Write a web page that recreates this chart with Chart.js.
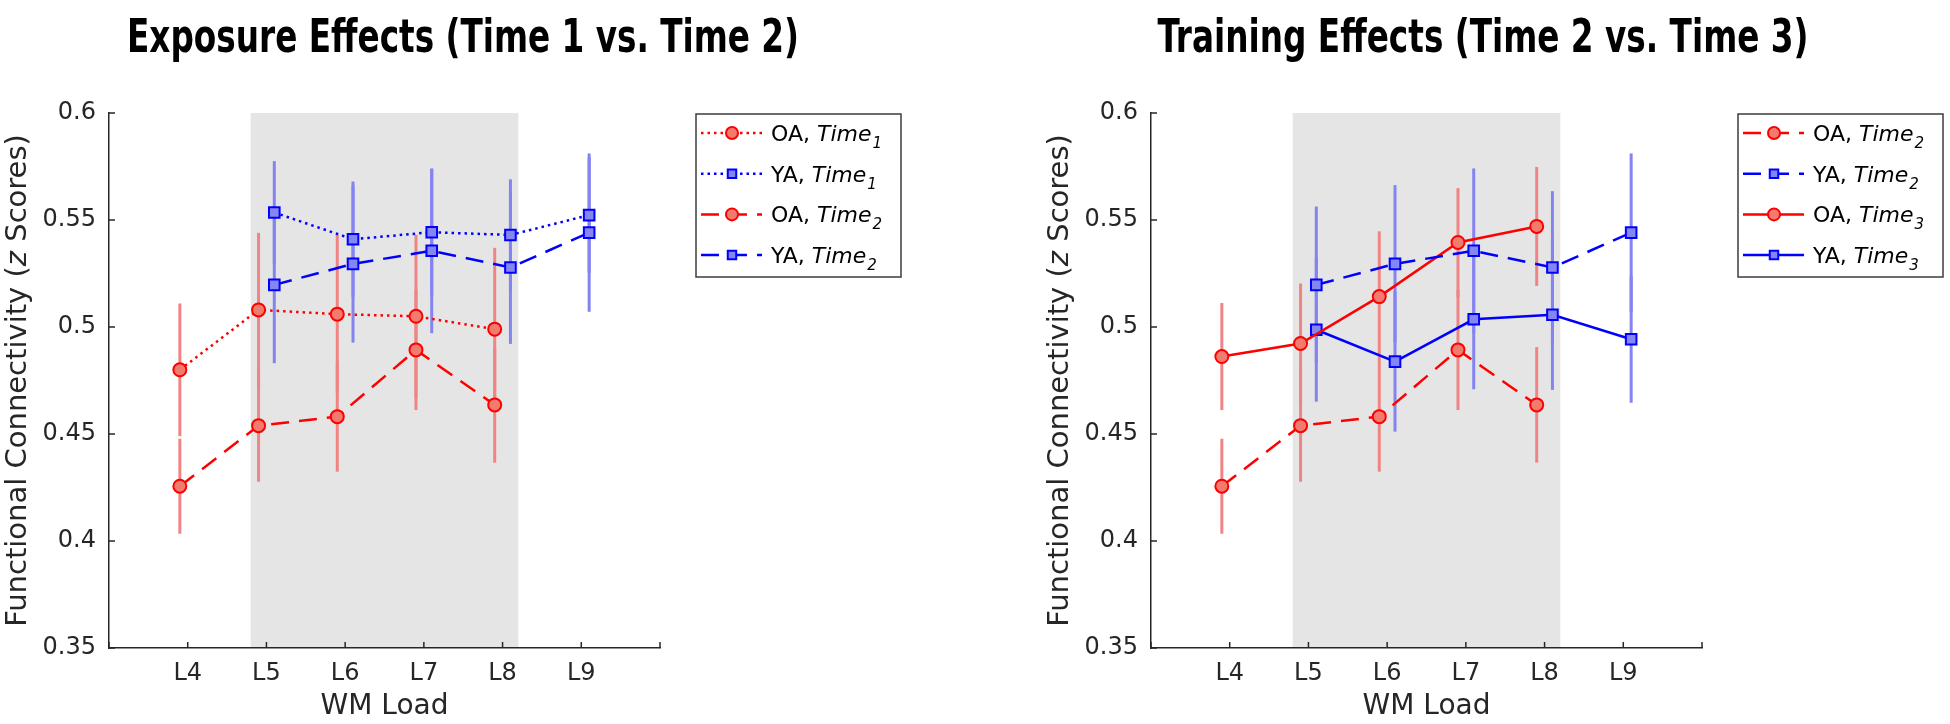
<!DOCTYPE html>
<html>
<head>
<meta charset="utf-8">
<script src="https://cdn.jsdelivr.net/npm/chart.js@4.4.1/dist/chart.umd.min.js"></script>
<style>
  html, body { margin: 0; padding: 0; background: #fff; }
  body { width: 1950px; height: 724px; position: relative; overflow: hidden; }
  canvas { position: absolute; top: 0; }
  #exposure { left: 0; }
  #training { left: 1042px; }
</style>
</head>
<body>
<canvas id="exposure" width="1042" height="724"></canvas>
<canvas id="training" width="908" height="724"></canvas>
<script>
// WM load levels and their tick labels
const loads = [4, 5, 6, 7, 8, 9]
const loadLabels = ['L4', 'L5', 'L6', 'L7', 'L8', 'L9']
const xLimits = [3, 10]
const yTicks = [0.35, 0.4, 0.45, 0.5, 0.55, 0.6]
const shaded = [4.8, 8.2]

// mean functional connectivity (z) per load, null = no data at that load
const oaTime1 = [0.480, 0.508, 0.506, 0.505, 0.499, null]
const oaTime1Err = [0.031, 0.036, 0.037, 0.038, 0.038, null]
const yaTime1 = [null, 0.5535, 0.541, 0.5443, 0.543, 0.5523]
const yaTime1Err = [null, 0.024, 0.027, 0.0295, 0.026, 0.027]

const oaTime2 = [0.4256, 0.4539, 0.4581, 0.4893, 0.4636, null]
const oaTime2Err = [0.0222, 0.0262, 0.0257, 0.0281, 0.027, null]
const yaTime2 = [null, 0.5197, 0.5295, 0.5356, 0.5278, 0.5441]
const yaTime2Err = [null, 0.0366, 0.0368, 0.0385, 0.0357, 0.037]

const oaTime3 = [0.4862, 0.4923, 0.5142, 0.5395, 0.547, null]
const oaTime3Err = [0.025, 0.028, 0.0305, 0.0254, 0.0278, null]
const yaTime3 = [null, 0.4987, 0.4838, 0.5036, 0.5057, 0.4943]
const yaTime3Err = [null, 0.0336, 0.0327, 0.0327, 0.0351, 0.0297]

const DOT = [2.5, 4]
const DASH = [18, 10]
const SOLID = []
const AXIS = '#262626'
const FONT = 'DejaVu Sans'

function series(group, session, values, errs, dash) {
    const oa = group === 'OA'
    const shift = oa ? -0.1 : 0.1
    const data = []
    values.forEach((v, i) => {
        if (v != null) data.push({ x: loads[i] + shift, y: v, e: errs[i] })
    })
    return {
        label: group + ', Time' + session,
        group, session, data,
        borderColor: oa ? '#ff0000' : '#0000ff',
        borderWidth: 2.5,
        borderDash: dash,
        pointStyle: oa ? 'circle' : 'rect',
        pointRadius: oa ? 6.5 : 7.5,
        pointBackgroundColor: oa ? '#f27b70' : '#8686f2',
        pointBorderColor: oa ? '#ff0000' : '#0000ff',
        pointBorderWidth: 2,
        errColor: oa ? '#f08484' : '#8484f0',
        fill: false,
        tension: 0,
    }
}

function line(ctx, x0, y0, x1, y1) {
    ctx.beginPath(); ctx.moveTo(x0, y0); ctx.lineTo(x1, y1); ctx.stroke()
}

const decor = {
    id: 'decor',
    beforeDraw(chart) {
        // grey band behind the data
        const { ctx, chartArea: a, scales: { x } } = chart
        const x0 = x.getPixelForValue(shaded[0])
        const x1 = x.getPixelForValue(shaded[1])
        ctx.save()
        ctx.fillStyle = '#e5e5e5'
        ctx.fillRect(x0, a.top, x1 - x0, a.bottom - a.top - 1)
        ctx.restore()
    },
    beforeDatasetsDraw(chart) {
        // error bars
        const { ctx, scales: { x, y } } = chart
        ctx.save()
        ctx.lineWidth = 3
        chart.data.datasets.forEach(ds => {
            ctx.strokeStyle = ds.errColor
            ds.data.forEach(p => {
                const px = x.getPixelForValue(p.x)
                line(ctx, px, y.getPixelForValue(p.y + p.e), px, y.getPixelForValue(p.y - p.e))
            })
        })
        ctx.restore()
    },
    afterDraw(chart, args, opts) {
        const { ctx, chartArea: a, scales: { x, y } } = chart
        ctx.save()

        // inward tick marks
        ctx.strokeStyle = AXIS
        ctx.lineWidth = 1.5
        x.ticks.forEach(t => {
            const px = x.getPixelForValue(t.value)
            line(ctx, px, a.bottom, px, a.bottom - 6)
        })
        y.ticks.forEach(t => {
            const py = y.getPixelForValue(t.value)
            line(ctx, a.left, py, a.left + 6, py)
        })

        // y label with italic z
        const parts = [['Functional Connectivity (', ''], ['z', 'italic '], [' Scores)', '']]
        ctx.translate(opts.yTitleX, (a.top + a.bottom) / 2)
        ctx.rotate(-Math.PI / 2)
        ctx.fillStyle = AXIS
        ctx.textBaseline = 'middle'
        ctx.textAlign = 'left'
        let total = 0
        parts.forEach(([t, st]) => { ctx.font = st + '29px ' + FONT; total += ctx.measureText(t).width })
        let cx = -total / 2
        parts.forEach(([t, st]) => {
            ctx.font = st + '29px ' + FONT
            ctx.fillText(t, cx, 0)
            cx += ctx.measureText(t).width
        })
        ctx.setTransform(1, 0, 0, 1, 0, 0)

        // panel title, squeezed to the width of the original
        ctx.font = 'bold 47px "Liberation Sans Narrow", "DejaVu Sans Condensed", sans-serif'
        ctx.fillStyle = '#000'
        ctx.textAlign = 'center'
        ctx.textBaseline = 'alphabetic'
        const w = ctx.measureText(opts.title).width
        ctx.translate(opts.titleX, opts.titleY)
        ctx.scale(opts.titleWidth / w, 1)
        ctx.fillText(opts.title, 0, 0)
        ctx.setTransform(1, 0, 0, 1, 0, 0)

        // legend box
        const L = opts.legend
        ctx.fillStyle = '#fff'
        ctx.fillRect(L.left, L.top, L.width, L.height)
        ctx.strokeStyle = '#3c3c3c'
        ctx.lineWidth = 1.5
        ctx.strokeRect(L.left, L.top, L.width, L.height)
        chart.data.datasets.forEach((ds, i) => {
            const ry = L.top + 19 + i * 40.7
            ctx.strokeStyle = ds.borderColor
            ctx.lineWidth = ds.borderWidth
            ctx.setLineDash(ds.borderDash)
            line(ctx, L.left + 5, ry, L.left + 66, ry)
            ctx.setLineDash([])
            ctx.fillStyle = ds.pointBackgroundColor
            ctx.strokeStyle = ds.pointBorderColor
            ctx.lineWidth = 2
            Chart.helpers.drawPoint(ctx, { pointStyle: ds.pointStyle, radius: 6, borderWidth: 2, rotation: 0 }, L.left + 36, ry)
            ctx.fillStyle = '#000'
            ctx.textAlign = 'left'
            ctx.textBaseline = 'alphabetic'
            let tx = L.left + 75
            const base = ry + 8
            ctx.font = '22px ' + FONT
            ctx.fillText(ds.group + ', ', tx, base)
            tx += ctx.measureText(ds.group + ', ').width
            ctx.font = 'italic 22px ' + FONT
            ctx.fillText('Time', tx, base)
            tx += ctx.measureText('Time').width
            ctx.font = 'italic 15px ' + FONT
            ctx.fillText(ds.session, tx + 1, base + 7)
        })
        ctx.restore()
    },
}

function makeChart(id, datasets, title, titleX, titleWidth, rightPad) {
    return new Chart(document.getElementById(id), {
        type: 'line',
        data: { datasets },
        plugins: [decor],
        options: {
            responsive: false,
            animation: false,
            devicePixelRatio: 1,
            layout: { padding: { top: 113, right: rightPad, left: 0, bottom: 0 } },
            plugins: {
                legend: { display: false },
                title: { display: false },
                tooltip: { enabled: false },
                decor: {
                    title, titleX, titleWidth, titleY: 52, yTitleX: 18,
                    legend: { left: 696, top: 114, width: 205, height: 163 },
                },
            },
            scales: {
                x: {
                    type: 'linear',
                    min: xLimits[0],
                    max: xLimits[1],
                    afterBuildTicks: s => { s.ticks = [xLimits[0], ...loads, xLimits[1]].map(v => ({ value: v })) },
                    afterFit: s => { s.height = 76 },
                    grid: { display: false, drawTicks: false },
                    border: { display: true, color: AXIS, width: 1.5 },
                    ticks: {
                        padding: 11,
                        color: AXIS,
                        font: { family: FONT, size: 24 },
                        callback: v => { const i = loads.indexOf(v); return i >= 0 ? loadLabels[i] : '' },
                    },
                    title: {
                        display: true, text: 'WM Load', color: AXIS,
                        font: { family: FONT, size: 28 },
                        padding: { top: 0, bottom: 0 },
                    },
                },
                y: {
                    min: yTicks[0],
                    max: yTicks[yTicks.length - 1],
                    afterBuildTicks: s => { s.ticks = yTicks.map(v => ({ value: v })) },
                    afterFit: s => { s.width = 109 },
                    grid: { display: false, drawTicks: false },
                    border: { display: true, color: AXIS, width: 1.5 },
                    ticks: {
                        padding: 13,
                        color: AXIS,
                        font: { family: FONT, size: 24 },
                        callback: v => String(+v.toFixed(2)),
                    },
                },
            },
        },
    })
}

makeChart('exposure', [
    series('OA', '1', oaTime1, oaTime1Err, DOT),
    series('YA', '1', yaTime1, yaTime1Err, DOT),
    series('OA', '2', oaTime2, oaTime2Err, DASH),
    series('YA', '2', yaTime2, yaTime2Err, DASH),
], 'Exposure Effects (Time 1 vs. Time 2)', 463, 672, 1042 - 660)

makeChart('training', [
    series('OA', '2', oaTime2, oaTime2Err, DASH),
    series('YA', '2', yaTime2, yaTime2Err, DASH),
    series('OA', '3', oaTime3, oaTime3Err, SOLID),
    series('YA', '3', yaTime3, yaTime3Err, SOLID),
], 'Training Effects (Time 2 vs. Time 3)', 441, 651, 908 - 660)
</script>
</body>
</html>
